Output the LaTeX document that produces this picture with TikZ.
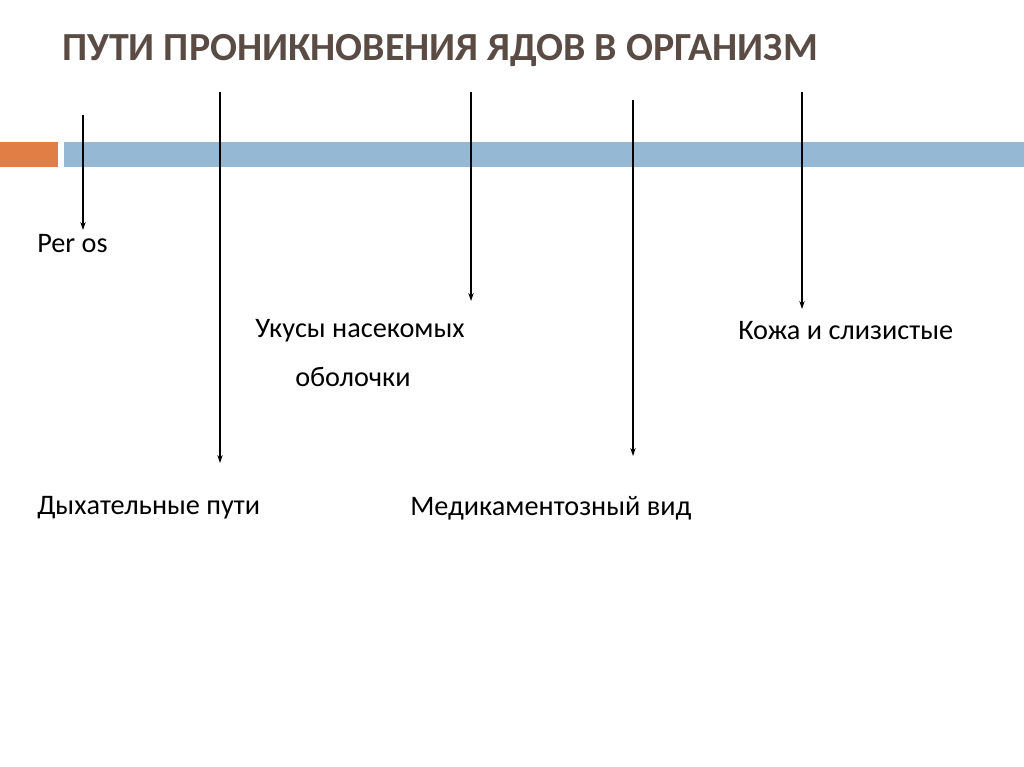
\documentclass[tikz,border=0pt]{standalone}
\usepackage{fontspec}
\usetikzlibrary{arrows.meta}
\setmainfont{Carlito}
\definecolor{ttl}{HTML}{5A4C45}
\definecolor{blu}{HTML}{95B8D5}
\definecolor{org}{HTML}{E07E45}
\tikzset{lbl/.style={anchor=west,inner sep=0pt,font=\fontsize{21.2}{24}\selectfont},
 arr/.style={-{Stealth[length=6pt,width=4pt]},line width=0.8pt}}
\begin{document}
\begin{tikzpicture}[x=0.75pt,y=-0.75pt]
\useasboundingbox (0,0) rectangle (1024,767);
\fill[white] (0,0) rectangle (1024,767);
\fill[org] (0,142) rectangle (58,167);
\fill[blu] (64,142) rectangle (1024,167);
\node[anchor=west,inner sep=0pt,text=ttl,font=\bfseries\fontsize{29.9}{32}\selectfont] (t) at (62,50) {ПУТИ ПРОНИКНОВЕНИЯ ЯДОВ В ОРГАНИЗМ};
\node[lbl] (a) at (37,244) {Per os};
\node[lbl] (b) at (255,331) {Укусы насекомых};
\node[lbl] (b2) at (295,377) {оболочки};
\node[lbl] (c) at (738,331) {Кожа и слизистые};
\node[lbl] (d) at (37,508) {Дыхательные пути};
\node[lbl] (e) at (410,508) {Медикаментозный вид};
\coordinate (s1) at (83,115); \coordinate (e1) at (83,230);
\coordinate (s2) at (220,92); \coordinate (e2) at (220,463);
\coordinate (s3) at (471,92); \coordinate (e3) at (471,301);
\coordinate (s4) at (633,100); \coordinate (e4) at (633,456);
\coordinate (s5) at (802,92); \coordinate (e5) at (802,309);
\foreach \i in {1,...,5} \draw[arr] (s\i) -- (e\i);
\end{tikzpicture}
\end{document}
